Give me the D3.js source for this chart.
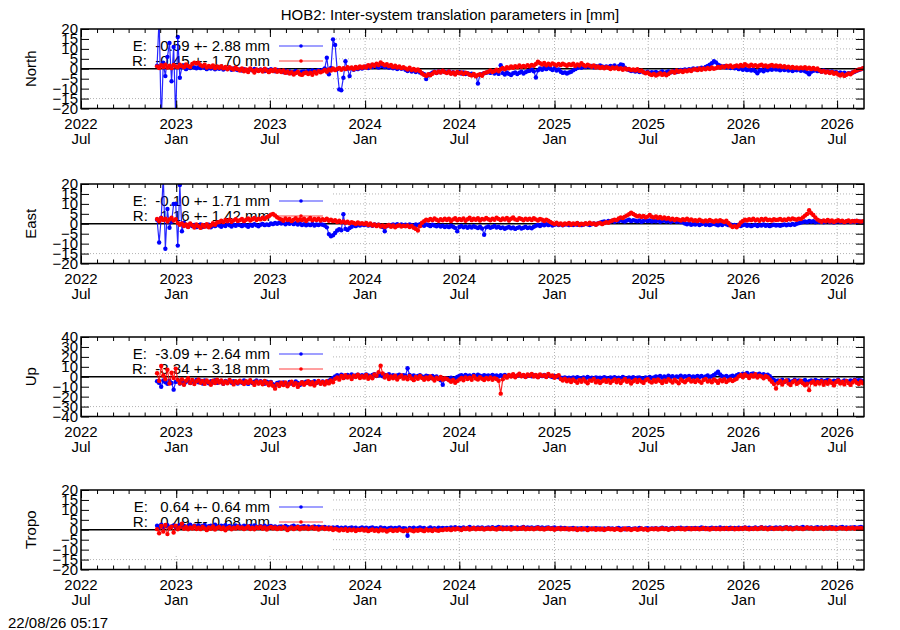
<!DOCTYPE html>
<html><head><meta charset="utf-8">
<script src="https://cdn.jsdelivr.net/npm/d3@7"></script>
<style>
body{margin:0;background:#fff}
svg text{font-family:"Liberation Sans",Arial,Helvetica,sans-serif;}
</style>
</head><body>
<svg id="c" width="900" height="630"></svg>
<script>
// ---------------- data ----------------
const titleText = "HOB2: Inter-system translation parameters in [mm]";
const timestamp = "22/08/26 05:17";
const axisStart = "2022-07-01";
const axisEnd = "2026-08-22";
const dataStart = "2022-11-25";
const stepDays = 4;
const panelNames = ["North", "East", "Up", "Tropo"];
const yLimits = [20, 20, 40, 20];
const yTickSteps = [5, 5, 10, 5];
const legendE = ["E:  -0.59 +- 2.88 mm", "E:  -0.10 +- 1.71 mm", "E:  -3.09 +- 2.64 mm", "E:   0.64 +- 0.64 mm"];
const legendR = ["R:  -0.45 +- 1.70 mm", "R:   1.16 +- 1.42 mm", "R:  -3.34 +- 3.18 mm", "R:   0.49 +- 0.68 mm"];

const northR = [
1.2,0.4,1.8,0.9,2.1,0.6,1.5,0.3,1.9,1.1,0.7,2.0,1.3,0.8,2.2,1.4,0.9,2.4,3.1,2.6,
3.0,1.8,1.2,2.0,0.6,1.4,0.9,1.7,0.3,1.1,0.5,1.3,0.2,0.9,-0.3,0.8,0.1,-0.4,0.6,-0.2,
-0.9,0.2,-1.3,-0.4,-1.6,0.1,-0.8,-1.9,-0.3,-1.1,-0.5,-1.4,0.0,-0.9,-1.7,-0.6,-1.2,-0.2,-1.5,-0.8,
-1.6,-0.8,-2.1,-1.3,-2.4,-1.7,-2.9,-2.2,-1.5,-2.8,-3.1,-2.3,-1.9,-2.7,-2.0,-3.0,-1.6,-2.4,-1.2,-1.8,
-1.3,-0.6,-1.5,-0.4,-0.9,0.2,-0.7,-0.1,0.4,-0.5,0.3,-0.2,0.8,0.1,0.6,-0.3,0.9,0.2,1.1,0.5,
1.2,0.6,1.8,1.0,2.2,1.5,2.6,1.9,3.2,2.4,1.7,2.3,1.3,1.9,0.8,1.5,0.6,1.2,0.3,0.8,
0.2,-0.4,0.5,-0.6,-0.1,-0.9,-0.3,-1.2,-2.4,-3.1,-3.6,-2.8,-3.3,-2.5,-1.6,-2.1,-1.3,-1.9,-1.0,-1.7,
-2.2,-1.4,-2.5,-1.8,-2.9,-1.6,-2.3,-1.9,-2.7,-2.0,-2.4,-3.0,-3.4,-2.6,-3.8,-3.1,-2.8,-3.5,-2.2,-1.9,
-1.5,-0.8,-1.6,-1.1,-0.5,-1.3,-0.2,0.4,-0.3,0.8,0.2,1.1,0.5,1.3,0.7,1.6,0.9,1.4,1.0,1.8,
1.2,1.9,1.5,2.4,3.6,2.8,2.1,2.9,1.7,2.5,1.9,2.7,2.2,1.6,2.4,1.8,2.6,2.0,1.5,2.3,
1.8,2.5,1.4,2.2,1.6,2.8,1.9,1.3,2.1,1.5,1.0,1.7,0.6,1.2,0.4,0.9,0.2,0.8,0.5,-0.1,
0.6,0.1,0.7,-0.2,0.3,-0.5,0.2,-0.4,-0.1,-0.7,-0.3,-0.9,-0.2,-1.1,-0.8,-1.7,-2.3,-1.9,-2.8,-3.2,
-2.6,-3.4,-2.9,-2.2,-3.1,-2.5,-3.3,-2.7,-1.8,-1.3,-2.0,-0.9,-1.5,-1.0,-1.6,-0.8,-1.3,-0.6,-1.1,-0.4,
-0.2,-0.7,0.1,-0.5,0.2,-0.3,0.4,-0.1,0.6,0.0,0.3,0.9,0.5,1.2,0.7,1.5,1.0,1.6,0.8,1.3,
1.6,1.1,1.9,1.3,2.3,1.7,1.2,2.0,1.4,1.8,1.1,1.6,2.1,1.3,1.7,1.0,1.5,1.9,1.2,1.6,
1.1,1.5,0.8,1.3,0.6,1.0,0.4,0.9,0.3,0.7,0.1,0.6,0.2,0.8,0.0,0.5,-0.2,0.4,-0.3,0.1,
-0.8,-1.5,-1.1,-1.9,-1.4,-2.2,-1.6,-2.5,-2.0,-2.9,-3.4,-2.7,-3.6,-3.0,-2.4,-2.8,-1.9,-1.3,-0.9,-0.4,
-0.2,0.3];

const northE = [
1.5,26,-27,3.0,-3.7,6.0,13.0,-6.3,11.0,-25,16.0,-4.5,0.8,1.6,-0.2,1.0,0.4,1.3,0.6,0.2,
0.8,0.3,1.1,0.5,-0.2,0.7,0.1,0.9,-0.3,0.4,0.0,0.6,-0.4,0.2,-0.1,0.5,-0.5,0.1,-0.3,-0.6,
-0.4,-0.9,-0.2,-0.7,-1.1,-0.3,-0.8,-0.1,-0.6,-1.0,-0.4,-0.7,-1.2,-0.5,-0.9,-0.2,-0.8,-1.3,-0.6,-1.0,
-1.2,-1.7,-1.0,-1.9,-1.4,-2.2,-1.6,-1.1,-1.8,-2.0,-1.5,-1.3,-1.9,-1.0,-1.6,-0.8,-1.4,-1.1,-0.7,-1.2,
-0.6,0.2,5.5,-2.8,0.4,14.8,12.0,-0.3,-10.4,-10.8,-4.5,3.8,0.1,-3.7,0.3,-0.5,0.6,-0.2,0.8,0.1,
0.7,1.2,0.4,1.5,0.9,1.8,1.1,0.6,1.9,1.3,0.8,1.4,0.5,1.0,0.2,0.9,-0.1,0.6,0.0,0.4,
-0.5,-1.1,-0.3,-1.4,-0.8,-1.6,-1.0,-1.9,-2.3,-2.8,-5.2,-3.4,-2.6,-2.0,-1.5,-2.2,-1.3,-1.8,-1.1,-1.6,
-1.9,-1.4,-2.3,-1.7,-2.6,-2.0,-1.6,-2.4,-1.8,-2.7,-2.2,-2.9,-2.5,-3.1,-3.6,-7.4,-3.0,-2.7,-2.3,-2.0,
-1.6,-2.1,-1.3,-2.4,-1.8,-2.6,1.8,-2.2,-2.9,-1.9,-2.6,-3.2,-2.3,-1.8,-2.7,-2.0,-1.5,-2.4,-1.7,-1.2,
-1.0,-0.4,-1.3,-4.4,-0.8,0.2,-0.5,0.4,-0.2,0.6,0.0,-0.6,0.3,-0.9,-0.4,-1.5,-2.1,-1.8,-2.4,-1.9,
-1.5,-0.8,-0.2,0.4,0.9,0.5,1.2,0.8,1.5,1.0,1.4,0.7,1.3,0.9,1.6,1.1,0.6,1.2,0.8,1.4,
1.0,1.6,0.8,1.3,2.2,1.9,0.5,-0.2,-0.6,-1.1,-0.8,-1.4,-1.0,-1.6,-1.2,-1.8,-2.0,-1.5,-2.2,-1.7,
-2.0,-1.6,-2.3,-1.8,-1.4,-2.1,-1.7,-1.3,-1.9,-1.5,-1.1,-1.6,-1.0,-0.6,-0.9,-0.3,-0.7,-0.2,-0.5,0.1,
-0.3,0.2,-0.1,0.5,0.3,0.9,1.4,2.0,2.8,3.8,3.2,2.1,1.5,0.9,1.3,0.6,1.1,0.4,0.8,0.2,
0.5,-0.2,0.3,-0.5,0.1,-0.7,-0.3,-0.9,-0.4,-1.2,-2.3,-1.0,-0.6,-1.3,-0.2,-0.8,0.0,-0.5,0.2,-0.4,
-0.3,-0.8,0.1,-0.6,-0.2,-0.9,-0.4,-1.1,-0.5,-0.8,-0.3,-1.0,-0.6,-1.3,-1.8,-2.8,-1.5,-1.0,-0.7,-1.2,
-1.0,-1.5,-0.8,-1.7,-1.2,-1.9,-1.4,-2.0,-1.6,-2.3,-1.8,-2.5,-2.0,-2.6,-2.2,-2.4,-1.9,-1.5,-1.0,-0.6,
-0.3,0.2];

const eastR = [
2.4,1.3,2.9,1.8,2.6,1.1,2.2,3.0,1.6,2.3,0.4,-0.5,0.2,-1.1,-0.3,-1.6,0.1,-0.8,-1.9,-0.4,
-1.2,-2.1,-0.6,-1.5,-0.2,-1.8,-0.9,0.3,-0.5,0.6,0.9,1.5,0.8,1.9,1.2,2.1,1.0,1.7,2.3,1.4,
1.8,2.4,1.3,2.0,2.7,1.6,2.3,2.9,1.9,2.6,2.2,3.0,2.4,3.3,3.8,4.6,4.9,4.2,3.3,2.6,
2.2,1.5,2.7,1.9,2.4,1.3,2.1,2.8,1.6,2.3,1.8,2.6,1.4,2.2,2.9,1.7,2.4,1.9,2.5,1.6,
2.3,1.8,2.6,1.5,2.1,1.3,1.8,0.9,1.5,0.7,1.2,0.5,1.0,0.2,0.8,0.4,-0.1,0.6,0.0,0.3,
-0.2,0.4,-0.6,0.1,-0.9,-0.3,-1.2,-0.5,-1.4,-0.8,-1.6,-1.0,-0.6,-1.5,-0.9,-1.8,-1.1,-0.7,-1.4,-1.0,
-1.3,-0.8,-1.6,-1.1,-2.0,-2.6,-3.4,-1.2,0.5,1.3,2.1,1.6,2.4,1.8,2.7,2.0,1.5,2.3,1.7,2.5,
1.9,2.6,1.4,2.2,2.8,1.7,2.4,1.9,2.7,1.5,2.3,3.0,1.8,2.5,2.0,2.8,1.6,2.4,2.1,2.9,
2.3,1.7,2.6,2.0,3.1,2.4,1.8,2.7,2.1,2.9,1.6,2.5,3.2,2.2,1.9,2.8,2.4,1.7,2.6,2.0,
2.5,1.9,2.8,2.2,1.6,2.4,2.0,1.4,2.1,1.5,0.9,0.3,-0.2,0.5,-0.4,0.2,-0.6,0.1,-0.3,0.4,
-0.5,0.2,-0.3,0.4,-0.6,0.0,-0.4,0.3,-0.2,0.5,-0.1,0.2,-0.5,0.1,0.4,-0.2,0.3,0.8,0.5,1.2,
1.6,2.1,1.8,2.7,3.2,2.9,3.6,4.2,4.8,5.6,4.9,4.3,3.7,4.1,3.4,3.9,3.2,3.6,4.4,3.5,
3.1,3.7,2.9,3.4,2.6,3.2,2.5,2.9,2.1,2.6,1.8,2.4,2.0,1.6,2.3,1.9,2.5,1.7,2.2,1.5,
1.8,1.3,2.0,1.5,1.1,1.7,1.2,1.9,1.4,1.0,1.6,1.2,1.8,1.3,0.9,1.5,0.4,-0.9,-1.6,-1.2,
-1.8,-0.7,0.6,1.4,2.0,1.6,2.3,1.8,2.5,1.7,2.2,1.5,2.4,1.9,2.6,1.8,2.1,1.6,2.3,1.9,
2.0,2.4,1.7,2.2,1.8,2.5,2.1,2.7,2.3,2.0,2.6,2.4,3.2,4.1,4.9,6.8,5.3,4.4,3.2,2.1,
1.5,1.0,1.7,1.2,1.9,1.1,1.6,0.9,1.4,1.8,1.2,1.5,0.8,1.3,1.6,1.0,1.4,1.1,1.5,1.2,
1.0,1.3];

const eastE = [
2.0,-9.4,3.0,24,-12.6,7.4,-2.0,1.0,9.9,10.1,-11.0,19.5,-3.8,0.5,-0.8,-1.5,-0.3,-1.2,-0.6,-1.7,
-1.1,-0.4,-1.6,-0.9,-1.3,-0.5,-1.8,-0.7,-1.2,-0.3,-0.9,-1.5,-0.6,-1.1,-0.2,-0.8,-1.4,-0.5,-1.0,-0.3,
-0.7,-1.2,-0.4,-0.9,-1.5,-0.6,-1.0,-0.2,-0.8,-1.3,-0.5,-0.1,-0.7,-0.3,-0.6,0.2,-0.2,0.4,0.0,0.5,
0.1,0.6,-0.3,0.4,0.0,0.7,-0.2,0.3,-0.4,0.2,-0.6,-0.2,-0.8,-0.3,-0.7,-0.1,-0.9,-0.4,-0.6,-0.2,
-0.5,-0.9,-1.8,-5.2,-6.3,-5.8,-4.6,-3.4,-2.8,-3.3,4.8,-2.6,-3.1,-2.2,-1.5,-0.8,-1.2,-0.4,-0.9,-0.3,
-0.7,-0.2,-0.9,-0.4,-1.0,-0.3,-0.8,-0.5,-1.1,-1.6,-3.8,-1.2,-0.6,-0.9,-0.3,-0.7,-0.2,-0.8,-0.4,-1.0,
-0.5,-0.9,-0.3,-0.7,-1.1,-0.4,-0.8,-0.2,-0.6,-1.0,-0.3,-0.7,-1.2,-0.5,-0.9,-1.3,-0.8,-1.4,-1.0,-1.6,
-1.2,-1.7,-1.0,-1.5,-2.1,-3.8,-1.6,-1.1,-1.8,-1.3,-2.0,-1.4,-1.9,-1.2,-1.7,-2.2,-1.5,-2.4,-5.5,-1.8,
-1.4,-2.0,-1.6,-1.1,-1.9,-1.5,-2.2,-1.8,-2.5,-2.0,-1.6,-2.3,-1.9,-2.6,-2.1,-1.7,-2.4,-2.0,-1.5,-2.2,
-1.8,-2.3,-1.5,-1.0,-0.6,-1.1,-0.4,-0.8,-0.2,-0.7,-0.3,-0.9,-0.5,-0.1,-0.6,-0.3,-0.8,-0.4,-0.2,-0.7,
-0.3,-0.6,-0.1,-0.5,-0.2,-0.7,-0.4,0.0,-0.3,-0.6,-0.2,0.1,-0.4,0.2,0.5,0.9,1.2,0.8,1.4,1.1,
1.5,1.0,1.7,1.2,1.9,1.4,1.1,1.6,2.0,1.3,1.8,1.5,1.2,1.7,1.0,1.4,1.9,1.3,1.6,1.1,
1.5,1.2,1.8,1.0,1.4,1.7,1.1,1.5,0.9,1.3,1.6,1.0,1.2,0.8,0.7,0.1,-0.3,0.2,-0.5,-0.1,
-0.4,0.1,-0.6,-0.2,0.2,-0.5,-0.1,-0.7,-0.3,0.0,-0.4,-0.8,-0.2,-0.6,0.1,-0.3,-0.7,-0.4,-1.0,-0.6,
-0.9,-0.5,-1.1,-0.7,-0.4,-1.0,-0.6,-1.2,-0.8,-0.5,-1.1,-0.7,-0.9,-0.4,-1.0,-0.6,-1.2,-0.8,-0.5,-0.9,
-0.6,-1.0,-0.7,-0.3,-0.8,-0.4,-0.6,-0.1,-0.5,0.0,0.3,0.6,0.9,1.2,0.8,1.4,1.0,1.3,0.7,1.1,
0.9,1.3,0.7,1.1,1.5,0.8,1.2,0.6,1.0,1.4,0.9,1.2,0.7,1.1,1.3,0.8,1.0,1.4,0.9,1.2,
1.0,0.8];

const upR = [
3.5,-4.2,10.8,1.2,-2.5,7.1,-6.8,4.0,-1.3,8.2,-3.1,-6.5,-2.4,-8.0,-4.1,-1.5,-6.2,-3.3,-7.4,-4.6,
-2.8,-6.1,-4.3,-7.2,-3.6,-5.5,-8.1,-4.0,-6.4,-2.9,-5.8,-3.7,-7.0,-4.8,-6.6,-3.2,-5.1,-7.7,-4.4,-6.0,
-3.9,-5.6,-7.3,-4.5,-6.2,-3.4,-5.9,-8.2,-4.7,-6.8,-5.0,-7.5,-4.2,-6.3,-8.6,-5.8,-9.1,-12.0,-7.4,-9.3,
-6.1,-8.4,-5.7,-9.6,-7.0,-4.9,-8.3,-6.5,-10.2,-7.2,-5.4,-8.0,-6.3,-4.6,-7.7,-5.5,-8.8,-6.0,-4.3,-7.1,
-5.2,-7.9,-4.6,-6.7,-3.8,-5.5,-2.1,-0.6,-2.9,0.8,-1.4,1.6,-0.8,0.4,-2.2,1.1,-0.3,2.0,-1.2,0.6,
-0.9,1.8,-2.0,0.3,-1.5,2.4,0.9,4.5,11.0,3.2,-0.7,1.5,-2.3,0.2,-1.6,1.0,-2.8,-0.4,1.3,-1.9,
-0.5,-2.6,0.7,-1.8,-3.4,-0.2,-2.1,0.9,-1.3,-3.0,-0.8,-2.5,0.4,-1.7,-3.8,-1.0,-2.4,-0.3,-2.9,-1.5,
-2.2,-3.6,-5.1,-3.3,-6.0,-4.4,-2.8,-1.2,-3.5,-0.6,-2.3,-1.0,-3.1,0.5,-1.8,-2.7,-0.4,-2.0,-3.2,-1.1,
-2.5,-0.8,-3.0,-1.4,-2.2,-4.0,-17.0,-2.6,0.6,-0.9,1.8,0.2,2.5,-0.5,1.3,3.1,0.4,1.9,-0.3,2.2,
1.0,2.8,0.3,1.7,-0.6,2.4,0.9,1.5,-0.2,2.9,0.7,1.2,-1.0,0.5,1.6,-2.3,-3.8,-1.9,-4.6,-3.0,
-5.3,-2.7,-4.4,-6.1,-3.2,-5.0,-2.5,-4.8,-6.6,-3.6,-4.1,-2.2,-5.7,-3.9,-6.3,-4.5,-2.9,-5.2,-3.4,-6.0,
-4.2,-2.6,-5.5,-3.1,-6.4,-4.0,-2.3,-5.1,-3.7,-6.8,-4.6,-2.9,-5.4,-3.3,-4.9,-6.2,-3.5,-2.4,-4.7,-5.9,
-3.2,-5.0,-2.7,-4.4,-6.3,-3.6,-5.2,-2.5,-4.1,-5.8,-3.0,-4.7,-6.5,-2.8,-4.3,-5.6,-3.4,-2.2,-4.9,-3.7,
-5.4,-2.9,-4.5,-6.0,-3.3,-2.1,-4.8,-3.6,-5.5,-2.6,-4.0,-6.2,-3.1,-4.6,-2.4,-5.3,-3.8,-2.7,-4.4,-3.0,
-2.0,0.4,1.8,-0.6,2.3,0.9,-1.2,1.5,0.1,2.6,-0.8,1.1,0.3,-1.5,0.8,-0.4,-2.8,-5.1,-7.4,-11.8,
-6.3,-4.2,-7.8,-5.1,-3.6,-6.9,-8.3,-5.5,-4.0,-7.2,-5.8,-3.9,-6.6,-8.5,-7.0,-13.5,-6.1,-4.7,-7.6,-5.2,
-6.8,-4.5,-8.0,-5.3,-7.1,-4.0,-6.2,-8.7,-5.6,-3.8,-6.9,-5.0,-7.7,-4.3,-6.4,-8.2,-5.7,-3.6,-6.0,-7.3,
-4.8,-6.5];

const upE = [
-4.5,-6.2,-10.0,-3.8,-5.5,-7.1,-4.0,-6.3,-13.0,-5.2,-3.6,-6.8,-4.9,-7.5,-5.1,-3.9,-6.4,-4.7,-5.8,-3.3,
-5.6,-4.1,-6.9,-3.7,-5.0,-6.5,-4.4,-5.9,-3.5,-6.2,-4.8,-5.4,-7.0,-4.3,-5.7,-3.9,-6.1,-4.6,-5.3,-6.8,
-4.9,-6.0,-3.8,-5.5,-7.2,-4.6,-6.3,-5.1,-3.7,-6.6,-4.4,-5.8,-7.0,-4.9,-6.1,-5.3,-7.4,-8.6,-6.2,-5.7,
-7.3,-5.8,-6.6,-8.0,-5.2,-6.9,-7.6,-4.8,-6.3,-8.4,-5.6,-7.1,-4.9,-6.4,-5.5,-7.0,-4.6,-6.2,-5.1,-6.7,
-4.8,-6.0,-5.3,-4.1,-2.5,-1.2,0.4,1.5,0.6,2.1,1.0,-0.2,1.7,0.8,2.4,0.3,1.2,2.0,0.5,1.6,
0.9,2.2,1.3,0.2,1.8,2.6,0.7,1.4,2.3,0.5,1.9,1.1,2.5,0.8,1.6,0.1,1.3,2.0,0.6,1.5,
1.0,8.5,1.8,0.4,1.2,-0.3,0.9,1.6,0.2,-0.8,1.1,0.5,-1.2,0.7,-0.5,0.3,-1.8,-3.5,-8.0,-2.1,
-1.6,-2.4,-0.9,-3.0,-1.5,-0.2,0.8,1.5,0.3,1.9,0.9,1.3,0.1,1.7,0.6,2.0,1.1,0.4,1.6,0.8,
1.4,0.5,1.9,0.9,1.2,0.3,1.5,0.7,1.8,0.2,1.1,0.6,1.7,0.4,1.0,2.1,0.8,1.3,0.1,0.9,
1.2,0.4,1.6,0.8,0.0,1.3,0.6,1.9,0.3,1.0,0.5,-0.2,0.8,0.2,-0.5,-0.9,-1.3,-0.6,-1.8,-1.0,
-1.5,-0.7,-1.9,-0.4,-1.2,-2.0,-0.8,-1.4,-0.3,-1.7,-1.0,-2.2,-0.6,-1.3,-0.9,-1.8,-0.5,-1.1,-2.1,-0.7,
-1.3,-0.5,-1.9,-0.9,-1.6,-0.2,-1.1,-2.0,-0.7,-1.4,-0.4,-1.8,-1.0,-0.6,-1.5,-2.2,-0.8,-1.2,-0.3,-1.6,
-0.8,0.3,-0.4,0.9,-1.1,0.2,-0.6,1.1,-0.2,0.6,-0.9,0.4,-0.3,1.0,-0.7,0.5,-0.1,0.8,-0.5,0.2,
-0.4,0.7,-0.2,0.9,-0.8,0.3,1.2,-0.5,0.6,1.8,3.2,5.0,2.4,0.5,-0.3,0.8,-0.6,0.4,1.0,0.1,
1.5,2.6,1.1,3.0,2.0,3.8,1.4,2.7,3.4,1.8,2.2,3.1,1.6,2.5,1.2,2.0,0.5,-1.8,-3.2,-4.5,
-3.6,-4.8,-3.0,-5.2,-4.1,-3.4,-5.5,-4.4,-2.9,-4.7,-3.8,-5.0,-4.2,-3.3,-5.6,-4.5,-3.7,-4.9,-3.1,-4.3,
-4.6,-3.5,-5.1,-4.0,-3.2,-4.8,-5.4,-3.9,-4.4,-3.0,-4.9,-5.3,-3.6,-4.2,-5.0,-3.8,-4.5,-2.9,-4.1,-3.4,
-3.7,-4.4];

const tropoR = [
0.3,-1.8,1.9,-0.9,2.4,-2.2,0.8,1.5,-1.4,2.1,0.2,1.2,3.0,0.5,1.4,0.2,1.1,0.6,1.8,0.4,
1.0,0.3,1.5,0.7,-0.2,1.2,0.5,1.6,0.1,0.9,1.4,0.4,1.1,-0.3,0.8,1.3,0.2,1.0,0.6,1.5,
0.7,1.2,0.3,0.9,1.6,0.4,1.0,0.2,1.3,0.8,1.5,0.5,1.1,0.1,0.9,1.4,0.6,1.2,0.3,1.0,
0.5,1.3,0.8,-0.2,0.6,1.1,0.3,0.9,1.4,0.2,1.0,0.6,1.2,0.4,0.8,1.3,0.5,0.9,0.1,0.7,
1.1,0.4,0.8,0.2,0.9,-0.1,0.5,0.1,-0.4,0.3,-0.2,0.4,-0.5,0.1,-0.3,0.2,-0.6,0.0,-0.2,0.3,
-0.4,0.1,-0.7,-0.2,0.2,-0.5,-0.1,-0.8,0.1,-0.4,-0.2,-0.9,-0.3,0.0,-0.6,-0.1,-0.5,0.2,-0.3,-0.7,
-0.2,-0.6,0.1,-0.4,-0.8,-0.1,-0.5,0.0,-0.3,-0.7,0.2,-0.4,-0.1,-0.6,0.1,-0.3,-0.5,0.0,-0.2,0.3,
0.0,0.4,-0.2,0.5,0.1,0.7,0.2,-0.1,0.6,0.3,0.8,0.1,0.5,0.9,0.2,0.6,0.4,0.8,0.1,0.5,
0.7,0.3,0.9,0.4,0.1,0.6,1.0,0.2,0.7,0.4,0.8,0.1,0.6,0.9,0.3,0.7,0.5,1.1,0.2,0.6,
0.4,0.8,0.2,0.6,1.0,0.3,0.7,0.1,0.5,0.9,0.4,0.6,0.0,0.5,0.8,0.2,0.6,0.3,0.7,0.1,
0.5,0.2,0.7,-0.1,0.4,0.1,0.6,0.3,-0.2,0.5,0.2,0.6,0.0,0.4,0.1,0.5,-0.1,0.3,0.6,0.2,
0.4,0.0,0.5,0.2,-0.2,0.3,0.6,0.1,0.4,-0.1,0.3,0.5,0.0,0.2,0.6,0.1,0.4,-0.1,0.3,0.5,
0.2,0.6,0.1,0.4,0.8,0.3,0.5,0.0,0.4,0.7,0.2,0.5,0.9,0.3,0.6,0.1,0.5,0.8,0.2,0.6,
0.4,0.7,0.2,0.5,0.9,0.3,0.6,0.1,0.5,0.8,0.3,0.6,0.2,0.7,0.4,0.9,0.3,0.5,0.8,0.2,
0.6,0.3,0.8,0.4,1.0,0.5,0.2,0.7,0.4,0.9,0.3,0.6,1.1,0.5,0.8,0.2,0.6,0.9,0.4,0.7,
0.5,0.9,0.3,0.7,1.1,0.4,0.8,0.2,0.6,1.0,0.5,0.8,0.3,0.7,1.2,0.6,0.9,0.4,0.8,0.5,
0.7,1.0,0.4,0.8,0.6,1.1,0.5,0.9,0.3,0.7,1.0,0.6,0.8,0.4,0.9,0.6,1.0,0.5,0.8,0.6,
0.9,0.5];

const tropoE = [
2.0,1.4,2.5,1.1,1.8,2.3,0.9,1.7,2.2,1.3,1.9,2.4,1.5,2.1,1.2,1.8,2.6,1.4,2.0,1.6,
2.2,1.5,1.9,2.4,1.3,1.8,2.1,1.4,2.5,1.7,1.2,2.0,1.6,2.3,1.4,1.9,1.1,1.7,2.2,1.5,
1.8,1.3,2.1,1.6,1.0,1.9,1.4,2.2,1.5,1.2,1.8,1.4,2.0,1.1,1.6,1.9,1.3,1.7,1.0,1.5,
1.7,1.2,1.9,1.4,1.0,1.6,2.1,1.3,1.7,1.1,1.5,1.8,1.2,1.6,1.0,1.4,1.7,1.1,1.5,1.3,
1.0,1.4,0.9,1.2,0.7,1.1,0.8,1.3,0.6,1.0,0.7,1.2,0.5,0.9,1.1,0.6,1.0,0.4,0.8,1.1,
0.7,1.0,0.5,0.9,1.2,0.6,0.8,0.4,1.1,0.7,0.9,0.3,0.8,1.0,0.5,0.9,0.6,1.1,0.4,0.8,
0.6,-3.0,0.9,0.5,1.0,0.4,0.8,1.2,0.6,0.9,0.3,0.7,1.1,0.5,0.8,0.4,1.0,0.6,0.9,0.7,
0.9,0.5,1.1,0.7,1.3,0.6,1.0,0.8,1.2,0.5,0.9,1.4,0.7,1.0,0.6,1.2,0.8,1.1,0.5,0.9,
1.1,0.7,1.3,0.8,1.0,1.4,0.6,1.2,0.9,1.1,0.7,1.3,1.0,0.8,1.2,0.6,1.0,1.4,0.8,1.1,
0.9,1.2,0.7,1.0,1.3,0.8,1.1,0.6,1.0,1.2,0.7,0.9,1.1,0.5,0.8,1.0,0.6,0.9,0.4,0.7,
0.6,0.9,0.3,0.7,0.5,0.8,0.2,0.6,0.9,0.4,0.7,0.3,0.8,0.5,0.6,0.2,0.7,0.4,0.8,0.5,
0.7,0.3,0.6,0.9,0.4,0.7,0.2,0.6,0.8,0.3,0.5,0.7,0.4,0.9,0.5,0.3,0.6,0.8,0.4,0.7,
0.5,0.8,0.4,0.7,1.0,0.5,0.8,0.3,0.7,0.9,0.4,0.8,0.6,1.0,0.5,0.7,0.9,0.4,0.8,0.6,
0.9,0.5,0.8,1.1,0.6,0.9,0.4,0.8,1.0,0.6,0.9,0.5,1.1,0.7,0.9,0.5,0.8,1.0,0.6,0.9,
0.7,1.0,0.6,0.9,1.2,0.7,1.0,0.5,0.8,1.1,0.6,0.9,1.3,0.7,1.0,0.8,1.1,0.6,0.9,1.2,
0.8,1.1,0.7,1.0,1.3,0.8,1.1,0.6,0.9,1.2,0.7,1.0,1.4,0.8,1.1,0.9,1.2,0.7,1.0,1.3,
0.9,1.2,0.8,1.1,0.7,1.0,1.3,0.9,1.2,0.8,1.1,1.4,0.9,1.2,0.8,1.1,1.0,1.3,0.9,1.1,
1.4,1.0];

const seriesE = [northE, eastE, upE, tropoE];
const seriesR = [northR, eastR, upR, tropoR];

// ---------------- layout ----------------
const W = 900, H = 630;
const plotLeft = 81, plotRight = 864;
const panelTops = [29, 184, 337, 490];
const panelH = 79.5;
const keyBoxRight = 332, keyBoxH = 64;
const colE = "#0000ff", colR = "#ff0000";
const gridCol = "#b4b4b4";
const fontSize = 15;
const markR = 2.2;

const svg = d3.select("#c");
svg.append("rect").attr("width", W).attr("height", H).attr("fill", "#fff");

const parseD = d3.utcParse("%Y-%m-%d");
const x = d3.scaleUtc().domain([parseD(axisStart), parseD(axisEnd)]).range([plotLeft, plotRight]);
const d0 = parseD(dataStart);
const dateAt = i => d3.utcDay.offset(d0, i * stepDays);

const majors = d3.utcMonth.every(6).range(x.domain()[0], d3.utcDay.offset(x.domain()[1], 1));
const minors = d3.utcMonth.range(x.domain()[0], d3.utcDay.offset(x.domain()[1], 1));
const fmtYear = d3.utcFormat("%Y"), fmtMon = d3.utcFormat("%b");

// title
svg.append("text").attr("x", 450).attr("y", 20).attr("text-anchor", "middle")
  .attr("font-size", fontSize).text(titleText);
svg.append("text").attr("x", 8).attr("y", 628).attr("font-size", fontSize).text(timestamp);

panelNames.forEach((name, k) => {
  const top = panelTops[k], bot = top + panelH;
  const lim = yLimits[k], st = yTickSteps[k];
  const y = d3.scaleLinear().domain([-lim, lim]).range([bot, top]);
  const yt = d3.range(-lim, lim + st / 2, st);
  const g = svg.append("g");

  // grid
  g.selectAll("line.hg").data(yt.filter(v => v !== 0 && Math.abs(v) !== lim)).join("line")
    .attr("class", "hg")
    .attr("x1", plotLeft).attr("x2", plotRight)
    .attr("y1", d => y(d)).attr("y2", d => y(d))
    .attr("stroke", gridCol).attr("stroke-width", 1).attr("stroke-dasharray", "1,2");
  g.selectAll("line.vg").data(majors.filter(d => x(d) > plotLeft + 1 && x(d) < plotRight - 1)).join("line")
    .attr("class", "vg")
    .attr("x1", d => x(d)).attr("x2", d => x(d))
    .attr("y1", top).attr("y2", bot)
    .attr("stroke", gridCol).attr("stroke-width", 1).attr("stroke-dasharray", "1,2");

  // opaque key box
  g.append("rect").attr("x", plotLeft + 1).attr("y", top + 1)
    .attr("width", keyBoxRight - plotLeft - 1).attr("height", keyBoxH).attr("fill", "#fff");

  // key
  const keyRows = [[legendE[k], colE, top + 17], [legendR[k], colR, top + 32]];
  keyRows.forEach(([txt, col, cy]) => {
    g.append("text").attr("x", 270).attr("y", cy + 5).attr("text-anchor", "end")
      .attr("font-size", fontSize).style("white-space", "pre").attr("xml:space", "preserve").text(txt);
    g.append("line").attr("x1", 279).attr("x2", 323).attr("y1", cy).attr("y2", cy)
      .attr("stroke", col).attr("stroke-width", 1.2).attr("opacity", 0.75);
    g.append("circle").attr("cx", 301).attr("cy", cy).attr("r", 1.8).attr("fill", col);
  });

  // zero axis
  g.append("line").attr("x1", plotLeft).attr("x2", plotRight).attr("y1", y(0)).attr("y2", y(0))
    .attr("stroke", "#000").attr("stroke-width", 1.5);

  // data
  const clipId = "clip" + k;
  svg.append("clipPath").attr("id", clipId).append("rect")
    .attr("x", plotLeft).attr("y", top).attr("width", plotRight - plotLeft).attr("height", panelH);
  const dg = g.append("g").attr("clip-path", `url(#${clipId})`);
  const line = d3.line().x((d, i) => x(dateAt(i))).y(d => y(d));
  [[seriesE[k], colE], [seriesR[k], colR]].forEach(([vals, col]) => {
    dg.append("path").datum(vals).attr("d", line).attr("fill", "none")
      .attr("stroke", col).attr("stroke-width", 1.2).attr("opacity", 0.85);
    dg.append("g").selectAll("circle").data(vals).join("circle")
      .attr("cx", (d, i) => x(dateAt(i))).attr("cy", d => y(d)).attr("r", markR).attr("fill", col);
  });

  // axes (ticks inward)
  const styleAxis = s => { s.select(".domain").remove(); s.attr("font-size", fontSize).attr("font-family", null); };
  g.append("g").attr("transform", `translate(0,${bot})`)
    .call(d3.axisBottom(x).tickValues(minors).tickSize(-4).tickFormat("")).call(styleAxis);
  g.append("g").attr("transform", `translate(0,${top})`)
    .call(d3.axisTop(x).tickValues(minors).tickSize(-4).tickFormat("")).call(styleAxis);
  g.append("g").attr("transform", `translate(0,${bot})`)
    .call(d3.axisBottom(x).tickValues(majors).tickSize(-8).tickFormat("")).call(styleAxis);
  g.append("g").attr("transform", `translate(0,${top})`)
    .call(d3.axisTop(x).tickValues(majors).tickSize(-8).tickFormat("")).call(styleAxis);
  g.append("g").attr("transform", `translate(${plotLeft},0)`)
    .call(d3.axisLeft(y).tickValues(yt).tickSize(-8).tickPadding(3).tickFormat(d3.format("d"))).call(styleAxis);
  g.append("g").attr("transform", `translate(${plotRight},0)`)
    .call(d3.axisRight(y).tickValues(yt).tickSize(-8).tickFormat("")).call(styleAxis);

  // x labels (two lines)
  const lab = g.selectAll("text.xl").data(majors).join("text").attr("class", "xl")
    .attr("text-anchor", "middle").attr("font-size", fontSize);
  lab.append("tspan").attr("x", d => x(d)).attr("y", bot + 20).text(d => fmtYear(d));
  lab.append("tspan").attr("x", d => x(d)).attr("y", bot + 35).text(d => fmtMon(d));

  // border
  g.append("rect").attr("x", plotLeft).attr("y", top).attr("width", plotRight - plotLeft).attr("height", panelH)
    .attr("fill", "none").attr("stroke", "#000").attr("stroke-width", 1.5);

  // y title
  g.append("text").attr("transform", `translate(31,${(top + bot) / 2}) rotate(-90)`)
    .attr("text-anchor", "middle").attr("dy", "0.35em").attr("font-size", fontSize).text(name);
});
</script>
</body></html>
